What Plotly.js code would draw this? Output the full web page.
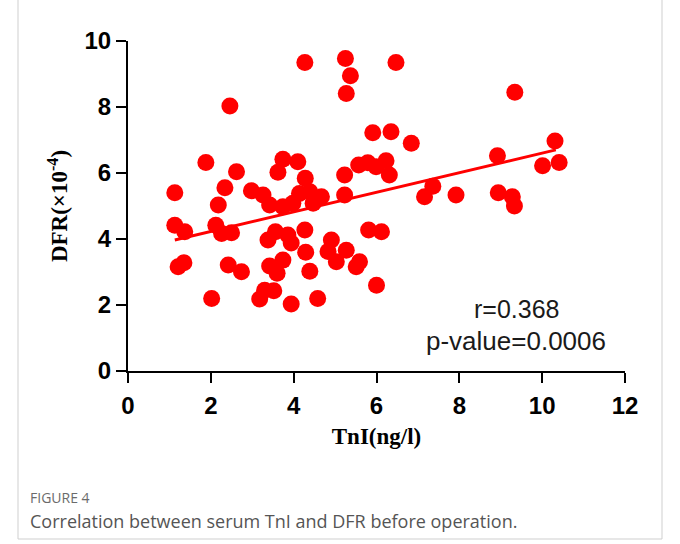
<!DOCTYPE html>
<html>
<head>
<meta charset="utf-8">
<script src="https://cdn.plot.ly/plotly-3.0.1.min.js"></script>
<style>html,body{margin:0;padding:0;background:#fff;}#chart{width:680px;height:544px;}</style>
</head>
<body>
<div id="chart"></div>
<script>
// TnI (ng/l) values
const tni = [1.13,1.13,1.37,1.21,1.35,1.88,2.02,2.12,2.18,2.26,2.34,2.42,2.46,2.50,2.62,2.74,2.98,3.26,3.42,3.18,
  3.30,3.52,3.38,3.56,3.42,3.60,3.74,3.62,3.74,4.10,3.74,3.98,3.86,3.94,3.94,4.14,4.28,4.27,4.39,4.47,
  4.67,4.27,4.29,4.39,4.58,4.91,4.83,5.03,5.27,5.23,5.23,5.25,5.37,5.27,5.59,5.51,5.57,5.79,5.99,6.23,
  6.31,5.81,6.12,6.00,5.91,6.35,6.84,6.47,7.16,7.36,7.92,8.92,8.94,9.28,9.33,9.34,10.01,10.31,10.41];
// DFR (x10^-4) values
const dfr = [5.40,4.42,4.22,3.16,3.28,6.32,2.20,4.42,5.03,4.17,5.55,3.21,8.03,4.19,6.04,3.01,5.46,5.33,5.03,2.18,
  2.45,2.43,3.97,4.22,3.18,2.96,3.36,6.02,6.42,6.34,4.98,5.08,4.12,3.88,2.03,5.38,5.84,9.35,5.43,5.08,
  5.28,4.27,3.60,3.02,2.20,3.97,3.62,3.31,3.66,5.94,5.33,9.47,8.95,8.41,3.31,3.16,6.24,6.31,6.19,6.37,
  5.94,4.27,4.22,2.60,7.22,7.25,6.90,9.35,5.28,5.60,5.33,6.52,5.40,5.28,5.00,8.45,6.22,6.97,6.32];
// fitted regression line endpoints
const fitX = [1.13, 10.33];
const fitY = [3.97, 6.70];
const xTicks = [0,2,4,6,8,10,12];
const yTicks = [0,2,4,6,8,10];

const traces = [
  {x: tni, y: dfr, type: 'scatter', mode: 'markers', cliponaxis: false,
   marker: {color: '#ff0000', size: 17, line: {width: 0}}, hoverinfo: 'skip'},
  {x: fitX, y: fitY, type: 'scatter', mode: 'lines', cliponaxis: false,
   line: {color: '#ff0000', width: 3}, hoverinfo: 'skip'}
];

const L = 128, R = 625, T = 41, B = 371;
const pw = R - L, ph = B - T;
const px = v => (v - L) / pw;
const py = v => (B - v) / ph;

const tickFont = {family: 'Liberation Sans, Arial', size: 24, color: '#000', weight: 'bold'};
const titleFont = {family: 'Liberation Serif, Times New Roman', size: 23, color: '#000', weight: 'bold'};

const layout = {
  width: 680, height: 544,
  margin: {l: L, r: 680 - R, t: T, b: 544 - B, pad: 0},
  paper_bgcolor: '#fff', plot_bgcolor: '#fff',
  showlegend: false,
  xaxis: {range: [0, 12], tickvals: xTicks, ticktext: xTicks.map(String),
    showline: true, linecolor: '#000', linewidth: 2, ticks: 'outside', ticklen: 10, tickwidth: 2, tickcolor: '#000',
    ticklabelstandoff: 2,
    showgrid: false, zeroline: false, tickfont: tickFont,
    title: {text: 'TnI(ng/l)', standoff: 10, font: titleFont}},
  yaxis: {range: [0, 10], tickvals: yTicks, ticktext: yTicks.map(String),
    showline: true, linecolor: '#000', linewidth: 2, ticks: 'outside', ticklen: 10, tickwidth: 2, tickcolor: '#000',
    showgrid: false, zeroline: false, tickfont: tickFont,
    title: {text: 'DFR(×10<sup>-4</sup>)', standoff: 10, font: titleFont}},
  annotations: [
    {text: 'r=0.368', xref: 'paper', yref: 'paper', x: px(562), y: py(309), xanchor: 'right', yanchor: 'middle',
     showarrow: false, font: {family: 'Liberation Sans, Arial', size: 25, color: '#1a1a1a'}},
    {text: 'p-value=0.0006', xref: 'paper', yref: 'paper', x: px(608), y: py(341), xanchor: 'right', yanchor: 'middle',
     showarrow: false, font: {family: 'Liberation Sans, Arial', size: 26, color: '#1a1a1a'}},
    {text: 'FIGURE 4', xref: 'paper', yref: 'paper', x: px(28), y: py(497), xanchor: 'left', yanchor: 'middle',
     showarrow: false, font: {family: 'Open Sans', size: 14, color: '#6b6b6b'}},
    {text: 'Correlation between serum TnI and DFR before operation.', xref: 'paper', yref: 'paper', x: px(28), y: py(521), xanchor: 'left', yanchor: 'middle',
     showarrow: false, font: {family: 'Open Sans', size: 18, color: '#555'}}
  ],
  shapes: [
    {type: 'line', xref: 'paper', yref: 'paper', x0: px(18), x1: px(18), y0: py(-5), y1: py(539), line: {color: '#cfcfcf', width: 1}},
    {type: 'line', xref: 'paper', yref: 'paper', x0: px(662), x1: px(662), y0: py(-5), y1: py(539), line: {color: '#cfcfcf', width: 1}},
    {type: 'line', xref: 'paper', yref: 'paper', x0: px(18), x1: px(662), y0: py(539), y1: py(539), line: {color: '#cfcfcf', width: 1}}
  ]
};

Plotly.newPlot('chart', traces, layout, {staticPlot: true, displayModeBar: false});
</script>
</body>
</html>
